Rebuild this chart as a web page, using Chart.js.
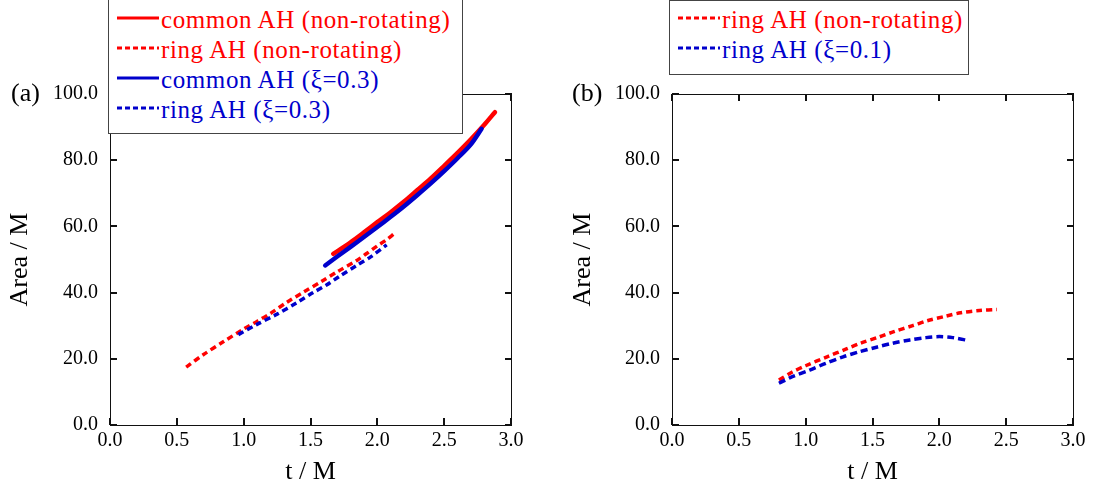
<!DOCTYPE html>
<html>
<head>
<meta charset="utf-8">
<script src="https://cdn.jsdelivr.net/npm/chart.js@4.4.1/dist/chart.umd.min.js"></script>
<style>
  html, body { margin:0; padding:0; background:#fff; }
  body { width:1095px; height:490px; position:relative; overflow:hidden; font-family:"Liberation Serif", "Times New Roman", serif; }
  canvas { position:absolute; top:0; }
  .leg { position:absolute; box-sizing:border-box; border:1.5px solid #444; background:#fff; z-index:5; }
  .row { display:flex; align-items:center; height:30px; padding-left:8px; font-size:25px; letter-spacing:0.6px; white-space:nowrap; }
  .row svg { flex:none; margin-right:1px; }
  .plab { position:absolute; font-size:26px; line-height:30px; z-index:4; }
</style>
</head>
<body>
<canvas id="ca" width="545" height="490" style="left:0"></canvas>
<canvas id="cb" width="535" height="490" style="left:560px"></canvas>

<div class="plab" style="left:11px; top:78px;">(a)</div>
<div class="plab" style="left:572px; top:78px;">(b)</div>

<div class="leg" id="legA" style="left:108px; top:-2px; width:355px; height:136px; padding-top:6px;"></div>
<div class="leg" id="legB" style="left:669px; top:0px; width:300px; height:75px; padding-top:4px;"></div>

<script>
// ---------- data ----------
const RED = '#ff0000';
const BLUE = '#0000cc';

const xTicks = [0, 0.5, 1.0, 1.5, 2.0, 2.5, 3.0];
const yTicks = [0, 20, 40, 60, 80, 100];

// panel (a)
const tCommonNR = [1.67, 1.8, 1.9, 2.0, 2.1, 2.2, 2.3, 2.4, 2.5, 2.6, 2.7, 2.8, 2.88];
const aCommonNR = [51.7, 55.2, 58.2, 61.3, 64.3, 67.5, 71.0, 74.5, 78.3, 82.2, 86.3, 90.7, 94.5];

const tCommonRot = [1.61, 1.7, 1.8, 1.9, 2.0, 2.1, 2.2, 2.3, 2.4, 2.5, 2.6, 2.7, 2.78];
const aCommonRot = [48.2, 50.9, 53.8, 56.8, 59.8, 62.9, 66.1, 69.5, 73.0, 76.7, 80.6, 84.8, 89.5];

const tRingNR = [0.57, 0.7, 0.85, 1.0, 1.1, 1.2, 1.32, 1.45, 1.58, 1.7, 1.85, 1.92, 2.0, 2.07, 2.13];
const aRingNR = [17.5, 21.3, 25.2, 29.0, 31.3, 33.7, 37.0, 40.2, 43.3, 46.3, 49.8, 51.8, 54.1, 56.0, 57.9];

const tRingRot = [0.96, 1.1, 1.25, 1.4, 1.52, 1.62, 1.72, 1.85, 1.95, 2.07];
const aRingRot = [27.3, 30.4, 33.5, 37.0, 40.0, 42.3, 45.0, 48.3, 50.8, 54.4];

// panel (b)
const tRingNRb = [0.8, 0.9, 1.0, 1.16, 1.3, 1.41, 1.55, 1.66, 1.8, 1.91, 2.05, 2.16, 2.3, 2.43];
const aRingNRb = [13.6, 16.0, 17.9, 20.6, 22.9, 24.7, 26.6, 28.2, 30.0, 31.5, 32.9, 33.9, 34.6, 34.9];

const tRingRotb = [0.8, 0.9, 1.03, 1.15, 1.28, 1.4, 1.53, 1.65, 1.78, 1.9, 2.0, 2.1, 2.22];
const aRingRotb = [12.6, 14.6, 16.6, 18.6, 20.6, 22.1, 23.5, 24.7, 25.7, 26.4, 26.7, 26.4, 25.5];

const legendA = [
  {label:'common AH (non-rotating)', color:RED, dashed:false},
  {label:'ring AH (non-rotating)', color:RED, dashed:true},
  {label:'common AH (\u03BE=0.3)', color:BLUE, dashed:false},
  {label:'ring AH (\u03BE=0.3)', color:BLUE, dashed:true}
];
const legendB = [
  {label:'ring AH (non-rotating)', color:RED, dashed:true},
  {label:'ring AH (\u03BE=0.1)', color:BLUE, dashed:true}
];

// ---------- helpers ----------
const pts = (t, a) => t.map((x, i) => ({x: x, y: a[i]}));
const FONT = '"Liberation Serif", "Times New Roman", serif';

function solid(label, t, a, color) {
  return {label, data: pts(t, a), showLine: true, borderColor: color, backgroundColor: color,
          borderWidth: 4.5, pointRadius: 0, tension: 0.3, borderCapStyle: 'round'};
}
function dashed(label, t, a, color, dash) {
  return {label, data: pts(t, a), showLine: true, borderColor: color, backgroundColor: color,
          borderWidth: 3.5, borderDash: dash, pointRadius: 0, tension: 0.3, borderCapStyle: 'butt'};
}

const frameTicks = {
  id: 'frameTicks',
  afterDraw(chart) {
    const ctx = chart.ctx;
    const a = chart.chartArea;
    const sx = chart.scales.x, sy = chart.scales.y;
    ctx.save();
    ctx.fillStyle = '#111';
    const L = 7;
    const l = Math.round(a.left), r = Math.round(a.right);
    const tp = Math.round(a.top), bt = Math.round(a.bottom);
    // frame
    ctx.fillRect(l, tp, r - l + 1, 1);
    ctx.fillRect(l, bt, r - l + 1, 1);
    ctx.fillRect(l, tp, 1, bt - tp + 1);
    ctx.fillRect(r, tp, 1, bt - tp + 1);
    // inward tick marks at the scale's tick values
    xTicks.forEach(v => {
      const px = Math.round(sx.getPixelForValue(v));
      ctx.fillRect(px - 1, bt - L, 2, L);
      ctx.fillRect(px - 1, tp, 2, L);
    });
    yTicks.forEach(v => {
      const py = Math.round(sy.getPixelForValue(v));
      ctx.fillRect(l, py - 1, L, 2);
      ctx.fillRect(r - L + 1, py - 1, L, 2);
    });
    ctx.restore();
  }
};

function makeOptions(yWidth, padRight, yTitlePad) {
  return {
    responsive: false,
    animation: false,
    devicePixelRatio: 1,
    layout: {padding: {left: 0, right: padRight, top: 94, bottom: 0}},
    plugins: {legend: {display: false}, tooltip: {enabled: false}},
    scales: {
      x: {
        type: 'linear', position: 'bottom', min: 0, max: 3,
        afterBuildTicks: s => { s.ticks = xTicks.map(v => ({value: v})); },
        afterFit: s => { s.height = 65; },
        grid: {display: false, drawTicks: false}, border: {display: false},
        ticks: {autoSkip: false, maxRotation: 0, padding: 4, color: '#000',
                font: {family: FONT, size: 20}, callback: v => Number(v).toFixed(1)},
        title: {display: true, text: 't / M', color: '#000', font: {family: FONT, size: 26},
                padding: {top: 0, bottom: 2}}
      },
      y: {
        type: 'linear', position: 'left', min: 0, max: 100,
        afterBuildTicks: s => { s.ticks = yTicks.map(v => ({value: v})); },
        afterFit: s => { s.width = yWidth; },
        grid: {display: false, drawTicks: false}, border: {display: false},
        ticks: {autoSkip: false, padding: 12, color: '#000',
                font: {family: FONT, size: 20}, callback: v => Number(v).toFixed(1)},
        title: {display: true, text: 'Area / M', color: '#000', font: {family: FONT, size: 26},
                padding: {top: yTitlePad, bottom: 0}}
      }
    }
  };
}

new Chart(document.getElementById('ca'), {
  type: 'scatter',
  data: {datasets: [
    solid('common AH (\u03BE=0.3)', tCommonRot, aCommonRot, BLUE),
    dashed('ring AH (\u03BE=0.3)', tRingRot, aRingRot, BLUE, [6, 4]),
    solid('common AH (non-rotating)', tCommonNR, aCommonNR, RED),
    dashed('ring AH (non-rotating)', tRingNR, aRingNR, RED, [6, 4])
  ]},
  options: makeOptions(110, 34, 5),
  plugins: [frameTicks]
});

new Chart(document.getElementById('cb'), {
  type: 'scatter',
  data: {datasets: [
    dashed('ring AH (\u03BE=0.1)', tRingRotb, aRingRotb, BLUE, [7, 4]),
    dashed('ring AH (non-rotating)', tRingNRb, aRingNRb, RED, [6, 4])
  ]},
  options: makeOptions(112, 22, 8),
  plugins: [frameTicks]
});

// ---------- legends (HTML) ----------
function buildLegend(el, items) {
  items.forEach(it => {
    const row = document.createElement('div');
    row.className = 'row';
    row.style.color = it.color;
    const ns = 'http://www.w3.org/2000/svg';
    const svg = document.createElementNS(ns, 'svg');
    svg.setAttribute('width', '43'); svg.setAttribute('height', '30');
    const ln = document.createElementNS(ns, 'line');
    ln.setAttribute('x1', '0'); ln.setAttribute('x2', '42');
    ln.setAttribute('y1', '13'); ln.setAttribute('y2', '13');
    ln.setAttribute('stroke', it.color);
    ln.setAttribute('stroke-width', '3');
    if (it.dashed) ln.setAttribute('stroke-dasharray', '5,3');
    svg.appendChild(ln);
    row.appendChild(svg);
    const sp = document.createElement('span');
    sp.textContent = it.label;
    row.appendChild(sp);
    el.appendChild(row);
  });
}
buildLegend(document.getElementById('legA'), legendA);
buildLegend(document.getElementById('legB'), legendB);
</script>
</body>
</html>
